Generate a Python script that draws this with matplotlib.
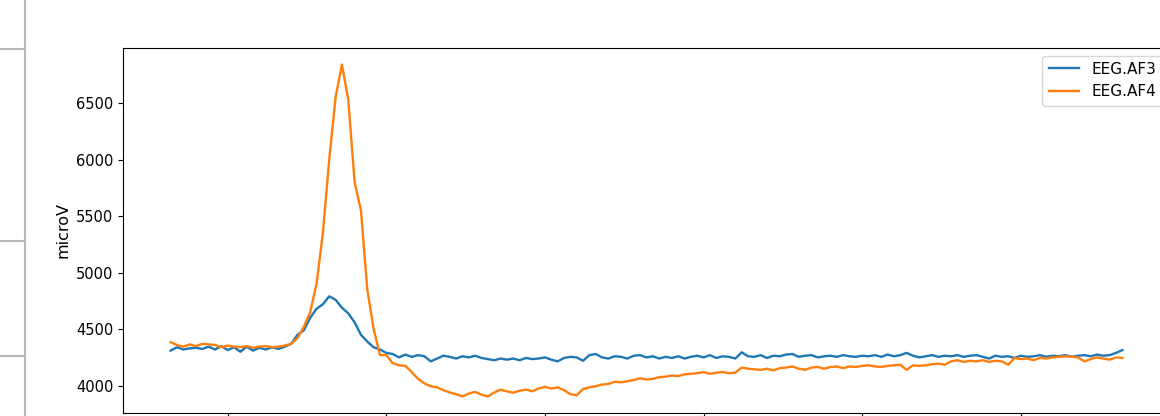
import numpy as np
import matplotlib
matplotlib.use("Agg")
import matplotlib.pyplot as plt
from matplotlib.lines import Line2D

# sample index (every 2nd sample)
samples = np.arange(32, 334, 2)

af3 = [4310, 4340, 4320, 4330, 4335, 4325, 4345, 4320, 4350, 4315,
       4340, 4300, 4345, 4310, 4335, 4320, 4340, 4325, 4345, 4370,
       4450, 4490, 4600, 4680, 4720, 4790, 4760, 4690, 4640, 4560,
       4450, 4390, 4340, 4320, 4290, 4280, 4250, 4275, 4255, 4270,
       4260, 4215, 4240, 4265, 4255, 4240, 4260, 4250, 4265, 4245,
       4235, 4225, 4240, 4230, 4240, 4225, 4245, 4235, 4240, 4250,
       4230, 4215, 4245, 4255, 4250, 4220, 4270, 4280, 4250, 4240,
       4260, 4255, 4240, 4265, 4270, 4250, 4260, 4240, 4255, 4245,
       4260, 4240, 4255, 4265, 4250, 4270, 4245, 4260, 4255, 4240,
       4295, 4260, 4255, 4270, 4245, 4265, 4260, 4275, 4280, 4255,
       4265, 4270, 4250, 4260, 4265, 4255, 4270, 4260, 4255, 4265,
       4260, 4270, 4255, 4275, 4260, 4270, 4290, 4265, 4250, 4260,
       4270, 4255, 4265, 4260, 4270, 4255, 4265, 4270, 4255, 4240,
       4265, 4255, 4260, 4245, 4265, 4255, 4260, 4270, 4255, 4265,
       4260, 4270, 4255, 4265, 4270, 4260, 4275, 4265, 4270, 4290,
       4315]

af4 = [4385, 4360, 4345, 4365, 4350, 4370, 4365, 4360, 4340, 4355,
       4345, 4340, 4350, 4335, 4345, 4350, 4340, 4345, 4355, 4370,
       4420, 4520, 4650, 4900, 5350, 6000, 6550, 6840, 6530, 5800,
       5550, 4850, 4500, 4270, 4270, 4200, 4180, 4175, 4120, 4060,
       4020, 3995, 3985, 3960, 3940, 3925, 3905, 3930, 3945, 3920,
       3905, 3940, 3965, 3950, 3938, 3955, 3965, 3950, 3975, 3990,
       3975, 3985, 3960, 3925, 3915, 3970, 3985, 3995, 4010, 4015,
       4035, 4030, 4040, 4050, 4065, 4055, 4060, 4075, 4080, 4090,
       4085, 4100, 4105, 4110, 4120, 4105, 4115, 4120, 4110, 4115,
       4160, 4150, 4145, 4140, 4150, 4135, 4155, 4160, 4170, 4150,
       4140, 4160, 4165, 4150, 4165, 4170, 4155, 4170, 4165, 4175,
       4180, 4170, 4165, 4175, 4180, 4185, 4140, 4180, 4175, 4180,
       4190, 4195, 4185, 4215, 4225, 4210, 4220, 4215, 4225, 4210,
       4220, 4215, 4185, 4245, 4235, 4240, 4225, 4245, 4240, 4250,
       4255, 4260, 4255, 4250, 4215, 4235, 4250, 4240, 4230, 4250,
       4245]

fig = plt.figure(figsize=(11.6, 4.16), dpi=100)
ax = fig.add_axes([123/1160, 3/416, 1047/1160, 365/416])

ax.plot(samples, af3, label='EEG.AF3', lw=1.7)
ax.plot(samples, af4, label='EEG.AF4', lw=1.7)
ax.set_ylabel('microV', fontsize=11.5)
ax.tick_params(axis='y', labelsize=10.5)
# x tick labels fall below the visible area in the screenshot
ax.tick_params(axis='x', labelbottom=False)
ax.legend(loc='upper right', fontsize=11)

# notebook cell borders on the left of the screenshot
grey = '#b8b8b8'
fig.add_artist(Line2D([24.5/1160, 24.5/1160], [0, 1], color=grey, lw=1.5))
for yy in [49, 241, 356]:
    fig.add_artist(Line2D([0, 24.5/1160], [1 - yy/416, 1 - yy/416], color=grey, lw=1.5))

fig.savefig('out.png', dpi=100)
